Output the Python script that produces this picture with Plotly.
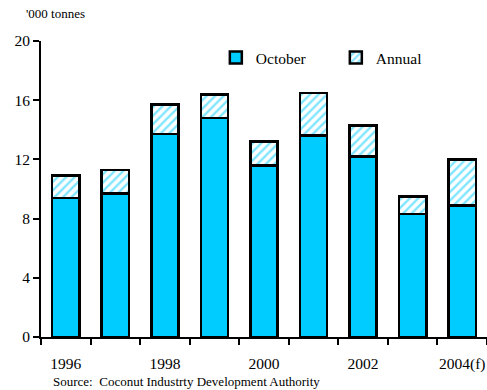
import plotly.graph_objects as go

# Output in '000 tonnes
years = ["1996", "1997", "1998", "1999", "2000", "2001", "2002", "2003", "2004(f)"]
october = [9.4, 9.7, 13.7, 14.8, 11.6, 13.6, 12.2, 8.3, 8.9]
annual = [10.9, 11.3, 15.7, 16.4, 13.2, 16.5, 14.3, 9.5, 12.0]
label_years = ["1996", "1998", "2000", "2002", "2004(f)"]

CYAN = "#00CCFF"
FONT = "Liberation Serif"

pos = list(range(len(years)))
remainder = [round(a - o, 2) for a, o in zip(annual, october)]

fig = go.Figure()
fig.add_trace(go.Bar(
    x=pos, y=october, name="October", width=0.55,
    marker=dict(color=CYAN, line=dict(color="black", width=2.5)),
))
fig.add_trace(go.Bar(
    x=pos, y=remainder, name="Annual", width=0.55,
    marker=dict(color="white", line=dict(color="black", width=2.5),
                pattern=dict(shape="/", fgcolor=CYAN, bgcolor="white",
                             size=6, solidity=0.4)),
))

# invisible trace on an overlay axis carrying the year labels
fig.add_trace(go.Scatter(x=[0], y=[0], xaxis="x2", mode="markers",
                         marker=dict(opacity=0), showlegend=False,
                         hoverinfo="skip"))

boundaries = [p - 0.5 for p in pos] + [pos[-1] + 0.5]
label_pos = [years.index(y) for y in label_years]

fig.update_layout(
    barmode="stack",
    width=487, height=390,
    margin=dict(l=41, r=0, t=41, b=53),
    paper_bgcolor="white", plot_bgcolor="white",
    font=dict(family=FONT, color="black", size=15),
    showlegend=True,
    legend=dict(orientation="h", x=0.392, y=1.0, xanchor="left", yanchor="top",
                entrywidth=75, entrywidthmode="pixels",
                font=dict(family=FONT, size=15.5), itemwidth=30,
                bgcolor="rgba(0,0,0,0)", traceorder="normal"),
    xaxis=dict(range=[-0.5, len(years) - 0.5], tickvals=boundaries,
               ticktext=[""] * len(boundaries), ticks="outside", ticklen=6,
               tickwidth=2, tickcolor="black", showline=True, linewidth=2,
               linecolor="black", showgrid=False, zeroline=False,
               fixedrange=True),
    xaxis2=dict(overlaying="x", side="bottom", range=[-0.5, len(years) - 0.5],
                tickvals=label_pos, ticktext=label_years, ticks="",
                showline=False, showgrid=False, zeroline=False,
                ticklabelstandoff=15, tickfont=dict(family=FONT, size=15.5)),
    yaxis=dict(range=[0, 20], tickvals=[0, 4, 8, 12, 16, 20], ticks="outside",
               ticklen=6, tickwidth=2, tickcolor="black", showline=True,
               linewidth=2, linecolor="black", showgrid=False, zeroline=False,
               tickfont=dict(family=FONT, size=15.5)),
    annotations=[
        dict(text="'000 tonnes", xref="paper", yref="paper", x=-0.037, y=1.06,
             xanchor="left", yanchor="bottom", showarrow=False,
             font=dict(family=FONT, size=13)),
        dict(text="Source:  Coconut Industrty Development Authority",
             xref="paper", yref="paper", x=0.022, y=-0.118,
             xanchor="left", yanchor="top", showarrow=False,
             font=dict(family=FONT, size=13)),
    ],
)

fig.write_html("out.html")
